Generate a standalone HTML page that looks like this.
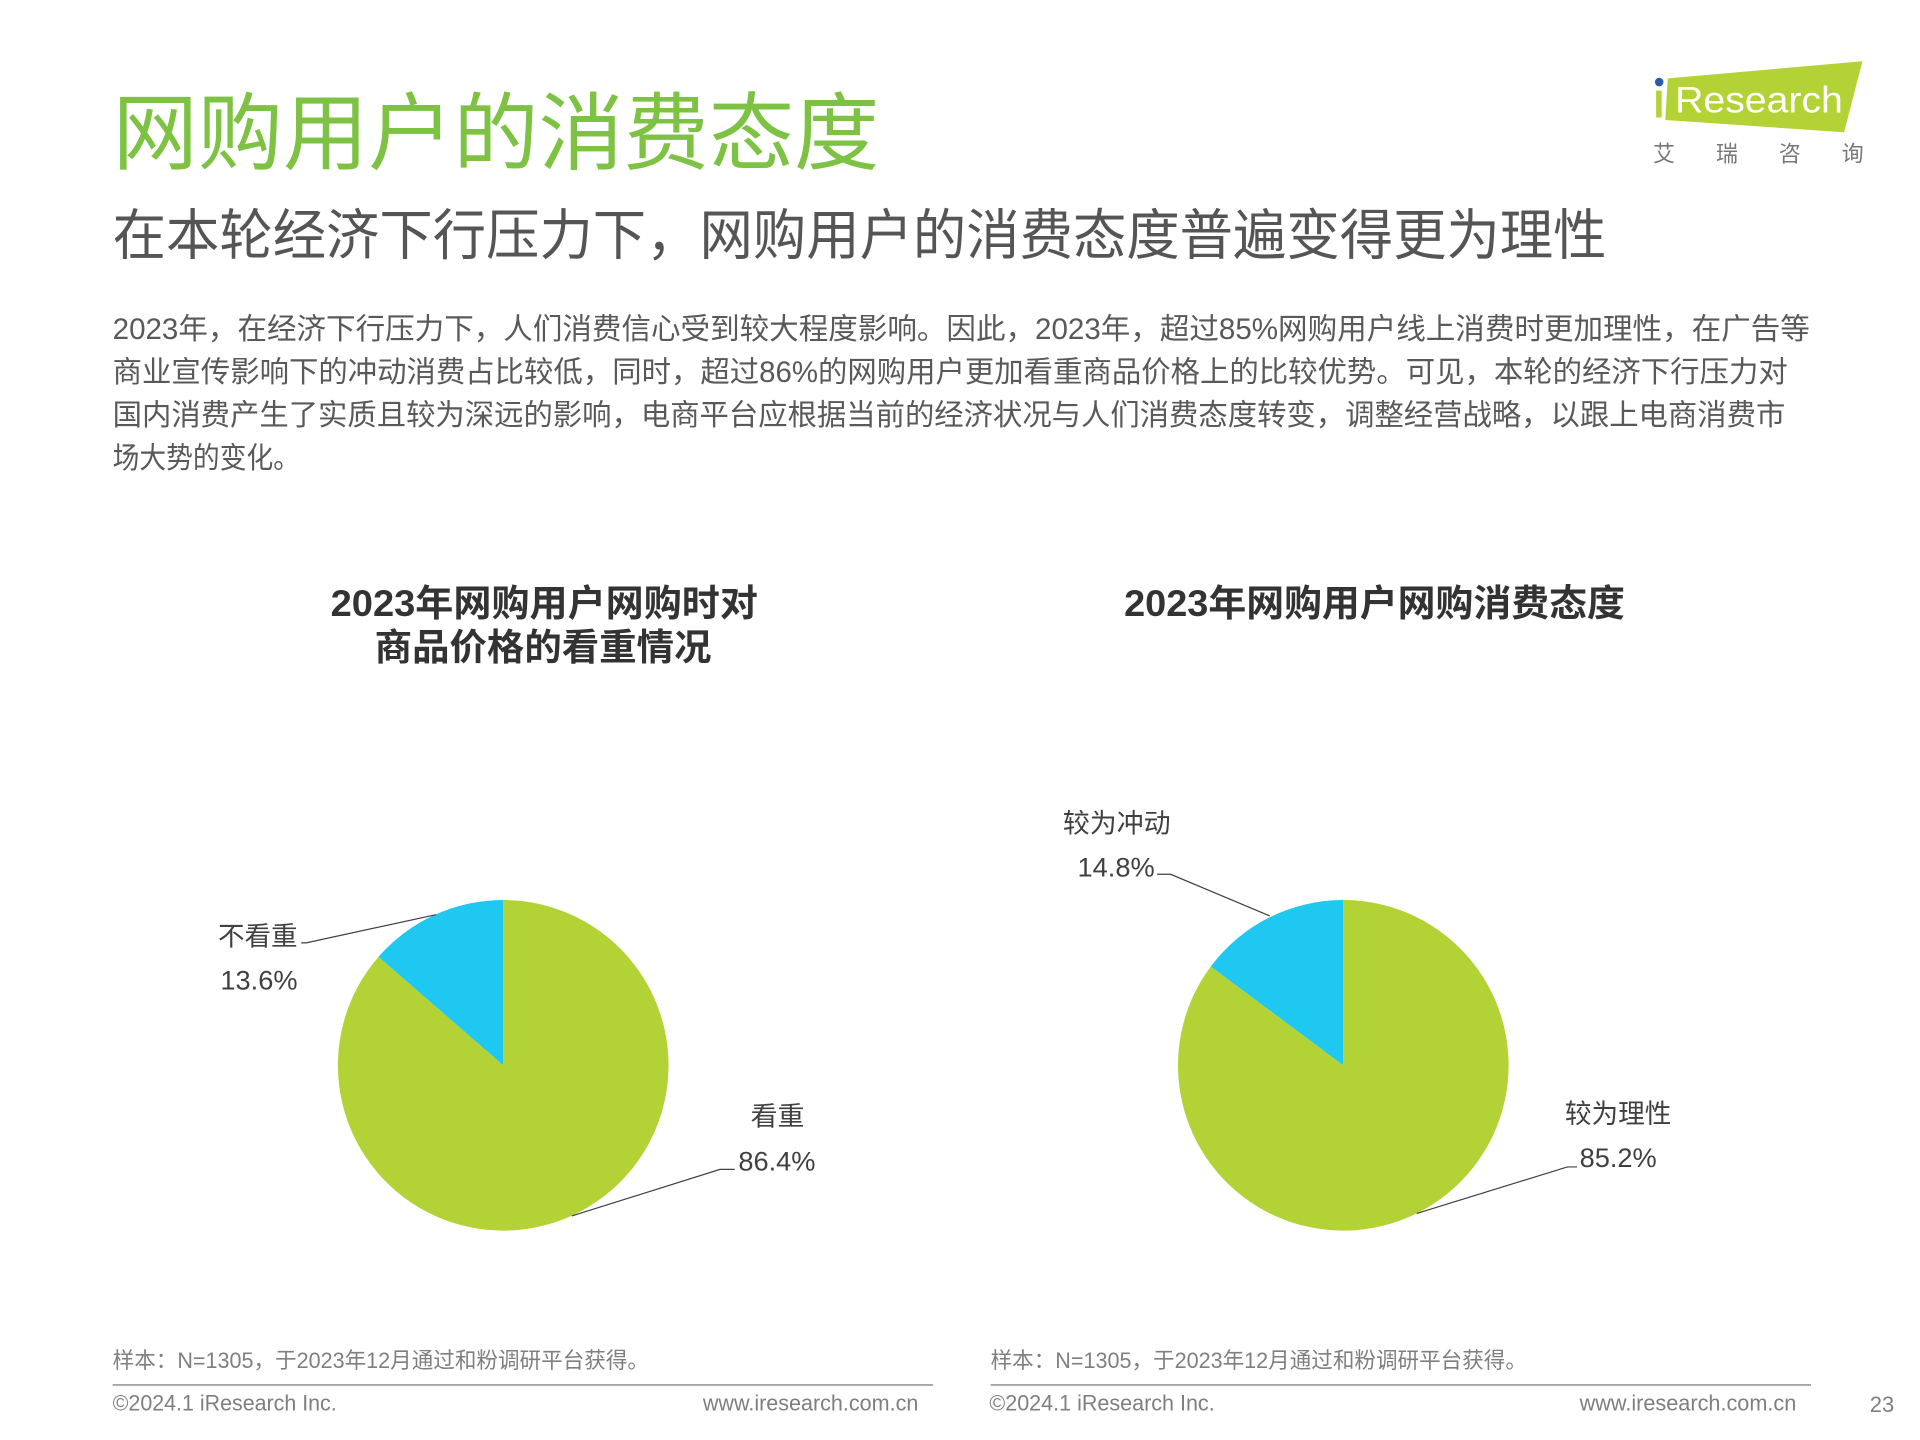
<!DOCTYPE html>
<html><head><meta charset="utf-8">
<style>
html,body{margin:0;padding:0;background:#fff;}
svg{display:block;}
text{font-family:"Liberation Sans","Noto Sans CJK SC",sans-serif;}
</style></head>
<body>
<svg width="1920" height="1440" viewBox="0 0 1568 1176" xmlns="http://www.w3.org/2000/svg">
<rect width="1568" height="1176" fill="#fff"/>
<!-- logo -->
<polygon points="1362,64 1521,50 1506,108 1360,98" fill="#b2d235"/>
<circle cx="1355" cy="67" r="3.5" fill="#2a5caa"/>
<rect x="1352.5" y="74" width="4.5" height="22" fill="#b2d235"/>
<text x="1368" y="92" font-size="30" fill="#fff" textLength="137" lengthAdjust="spacingAndGlyphs">Research</text>
<text x="1350" y="132" font-size="18" fill="#777" textLength="172" lengthAdjust="spacing">艾瑞咨询</text>
<!-- titles -->
<text x="92" y="133" font-size="69" fill="#7dc242" textLength="626" lengthAdjust="spacingAndGlyphs">网购用户的消费态度</text>
<text x="92" y="208" font-size="45" fill="#555" textLength="1220" lengthAdjust="spacingAndGlyphs">在本轮经济下行压力下，网购用户的消费态度普遍变得更为理性</text>
<g font-size="24" fill="#595959">
<text x="92" y="277" textLength="1386" lengthAdjust="spacingAndGlyphs">2023年，在经济下行压力下，人们消费信心受到较大程度影响。因此，2023年，超过85%网购用户线上消费时更加理性，在广告等</text>
<text x="92" y="312" textLength="1368" lengthAdjust="spacingAndGlyphs">商业宣传影响下的冲动消费占比较低，同时，超过86%的网购用户更加看重商品价格上的比较优势。可见，本轮的经济下行压力对</text>
<text x="92" y="347" textLength="1366" lengthAdjust="spacingAndGlyphs">国内消费产生了实质且较为深远的影响，电商平台应根据当前的经济状况与人们消费态度转变，调整经营战略，以跟上电商消费市</text>
<text x="92" y="382" textLength="153" lengthAdjust="spacingAndGlyphs">场大势的变化。</text>
</g>
<!-- chart titles -->
<g font-size="30" font-weight="bold" fill="#333">
<text x="270" y="503" textLength="349" lengthAdjust="spacingAndGlyphs">2023年网购用户网购时对</text>
<text x="306" y="539" textLength="275" lengthAdjust="spacingAndGlyphs">商品价格的看重情况</text>
<text x="918" y="503" textLength="409" lengthAdjust="spacingAndGlyphs">2023年网购用户网购消费态度</text>
</g>
<!-- pies -->
<path d="M411,870 L309.1,781.4 A135,135 0 1 0 411,735 Z" fill="#b2d235"/>
<path d="M411,870 L411,735 A135,135 0 0 0 309.1,781.4 Z" fill="#1ec8f0"/>
<path d="M1097,870 L988.8,789.3 A135,135 0 1 0 1097,735 Z" fill="#b2d235"/>
<path d="M1097,870 L1097,735 A135,135 0 0 0 988.8,789.3 Z" fill="#1ec8f0"/>
<!-- leader lines -->
<g stroke="#404040" stroke-width="1" fill="none">
<polyline points="356,747 250,770 246,770"/>
<polyline points="467,993 588,955 600,955"/>
<polyline points="1037,748 956,714 945,714"/>
<polyline points="1157,991 1280,953 1288,953"/>
</g>
<g font-size="22" fill="#404040">
<text x="178" y="772" textLength="65" lengthAdjust="spacingAndGlyphs">不看重</text>
<text x="180" y="808" textLength="63" lengthAdjust="spacingAndGlyphs">13.6%</text>
<text x="613" y="919" textLength="44" lengthAdjust="spacingAndGlyphs">看重</text>
<text x="603" y="956" textLength="63" lengthAdjust="spacingAndGlyphs">86.4%</text>
<text x="868" y="680" textLength="88" lengthAdjust="spacingAndGlyphs">较为冲动</text>
<text x="880" y="716" textLength="63" lengthAdjust="spacingAndGlyphs">14.8%</text>
<text x="1278" y="917" textLength="87" lengthAdjust="spacingAndGlyphs">较为理性</text>
<text x="1290" y="953" textLength="63" lengthAdjust="spacingAndGlyphs">85.2%</text>
</g>
<!-- footer -->
<g font-size="18" fill="#7f7f7f">
<text x="92" y="1117" textLength="438" lengthAdjust="spacingAndGlyphs">样本：N=1305，于2023年12月通过和粉调研平台获得。</text>
<text x="809" y="1117" textLength="438" lengthAdjust="spacingAndGlyphs">样本：N=1305，于2023年12月通过和粉调研平台获得。</text>
<text x="92" y="1152" textLength="183" lengthAdjust="spacingAndGlyphs">©2024.1 iResearch Inc.</text>
<text x="574" y="1152" textLength="176" lengthAdjust="spacingAndGlyphs">www.iresearch.com.cn</text>
<text x="808" y="1152" textLength="184" lengthAdjust="spacingAndGlyphs">©2024.1 iResearch Inc.</text>
<text x="1290" y="1152" textLength="177" lengthAdjust="spacingAndGlyphs">www.iresearch.com.cn</text>
<text x="1527" y="1153" textLength="20" lengthAdjust="spacingAndGlyphs">23</text>
</g>
<line x1="92" y1="1131" x2="762" y2="1131" stroke="#a6a6a6" stroke-width="1.5"/>
<line x1="809" y1="1131" x2="1479" y2="1131" stroke="#a6a6a6" stroke-width="1.5"/>
</svg>
</body></html>
